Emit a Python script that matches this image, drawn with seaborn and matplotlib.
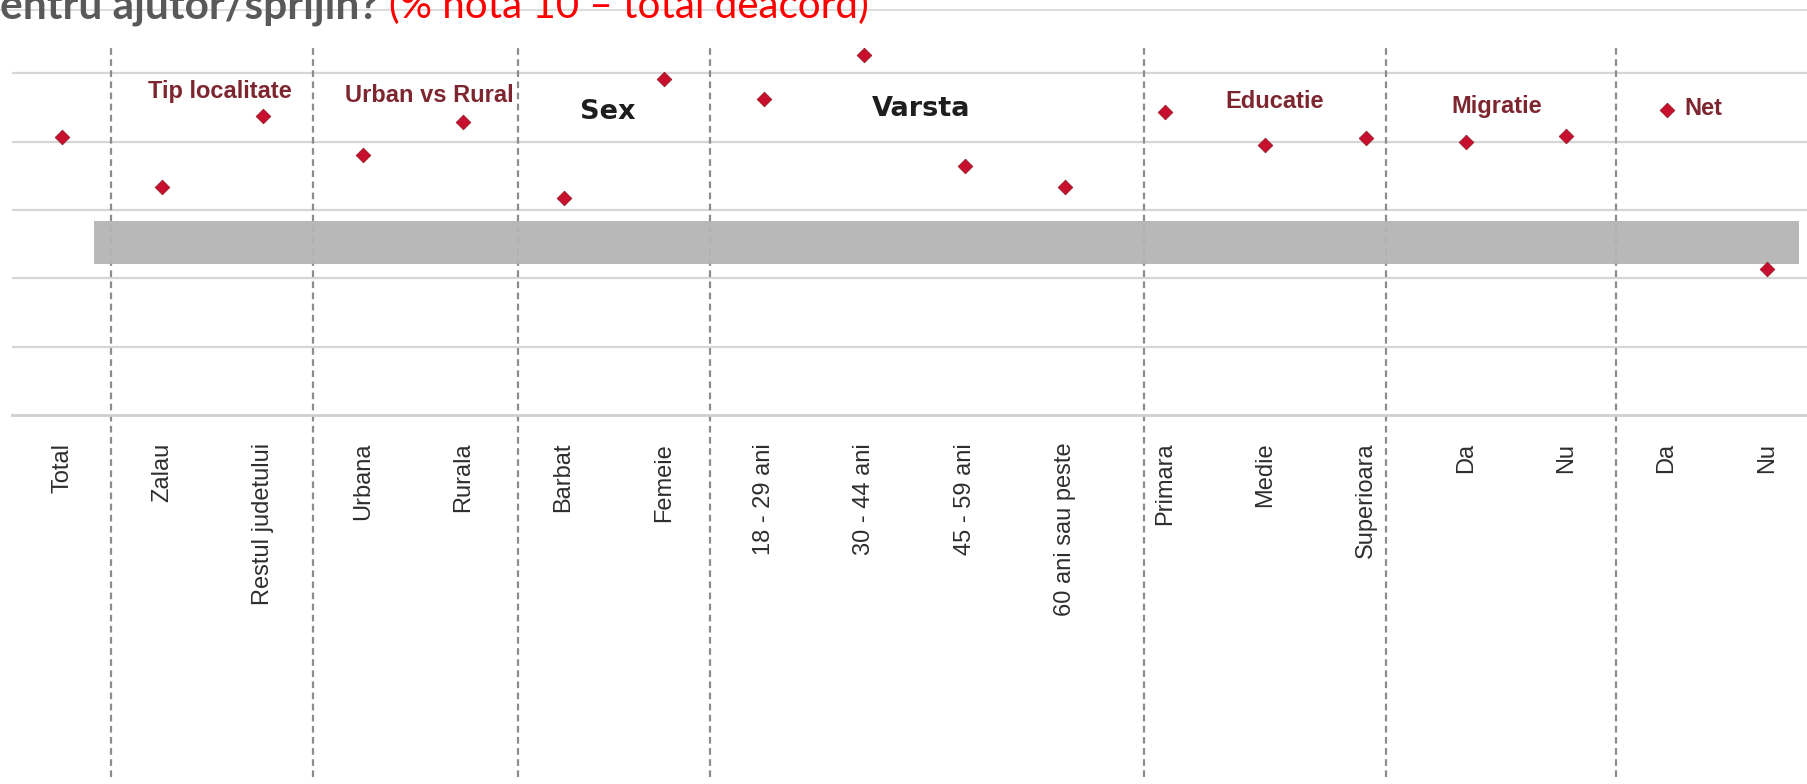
import numpy as np
import pandas as pd
import seaborn as sns
import matplotlib.pyplot as plt
from matplotlib.patches import Rectangle

# categorii si valori (% nota 10)
categorii = ["Total", "Zalau", "Restul judetului", "Urbana", "Rurala", "Barbat", "Femeie",
             "18 - 29 ani", "30 - 44 ani", "45 - 59 ani", "60 ani sau peste",
             "Primara", "Medie", "Superioara", "Da", "Nu", "Da", "Nu"]
valori = [40.7, 33.3, 43.8, 38.0, 42.9, 31.8, 49.2,
          46.3, 52.7, 36.5, 33.4,
          44.4, 39.5, 40.5, 40.0, 40.9, 44.6, 21.3]

grupuri = ["Tip localitate", "Urban vs Rural", "Sex", "Varsta", "Educatie", "Migratie", "Net"]

sns.set_style("white")
plt.rcParams['font.family'] = ['Liberation Sans', 'DejaVu Sans']

df = pd.DataFrame({"poz": np.arange(len(categorii)), "valoare": valori})

W, H = 1808, 784
fig = plt.figure(figsize=(W / 100, H / 100), dpi=100)
ax = fig.add_axes([12 / W, 1 - 415 / H, 1805 / W, 410 / H])

# grid orizontal
for g in [10, 20, 30, 40, 50]:
    ax.axhline(g, color="#d6d6d6", lw=1.6, zorder=0)

# linii separatoare intre grupuri
separatoare = [0.49, 2.5, 4.55, 6.46, 10.79, 13.2, 15.5]
for s in separatoare:
    ax.plot([s, s], [-53, 54], color="#8c8c8c", lw=1.6, ls=(0, (3, 2)),
            clip_on=False, zorder=1)

# banda gri
ax.add_patch(Rectangle((0.32, 22.1), 17.0, 6.3, facecolor="#b4b4b4",
                       edgecolor="none", alpha=0.95, zorder=2))

sns.scatterplot(data=df, x="poz", y="valoare", marker="D", s=55,
                color="#c8102e", edgecolor="#9a1a2a", linewidth=0.6,
                ax=ax, zorder=3, legend=False)

# etichete grupuri
stil = {"Tip localitate": (1.57, 47.3, "center"), "Urban vs Rural": (3.66, 46.8, "center"),
        "Sex": (5.44, 44.4, "center"), "Varsta": (8.57, 44.8, "center"),
        "Educatie": (12.09, 45.9, "center"), "Migratie": (14.31, 45.1, "center"),
        "Net": (16.18, 44.8, "left")}
for gname in grupuri:
    gx, gy, ha = stil[gname]
    if gname in ("Sex", "Varsta"):
        ax.text(gx, gy, gname, ha=ha, va="center", fontsize=19.5, fontweight="bold",
                color="#1e1e1e", family="DejaVu Sans", zorder=4)
    else:
        ax.text(gx, gy, gname, ha=ha, va="center", fontsize=17, fontweight="bold",
                color="#7e2630", zorder=4)

ax.set_xlim(-0.5, 17.5)
ax.set_ylim(0, 60)
ax.set_xticks(np.arange(len(categorii)))
ax.set_xticklabels(categorii, rotation=90, fontsize=17, color="#2e2e2e")
ax.set_xticks(np.arange(-0.5, 18, 1), minor=True)
ax.tick_params(axis="x", which="major", length=0, pad=20)
ax.tick_params(axis="x", which="minor", length=7, width=1.2, color="#b0b0b0", direction="out")
ax.set_yticks([])
ax.set_xlabel("")
ax.set_ylabel("")
for sp in ["top", "left", "right"]:
    ax.spines[sp].set_visible(False)
ax.spines["bottom"].set_color("#cfcfcf")
ax.spines["bottom"].set_linewidth(2)

# titlu (taiat sus)
fig.add_artist(plt.Line2D([0, 1], [1 - 10 / H, 1 - 10 / H], color="#dddddd", lw=1.5))
t1 = fig.text(0.0, 1 - 18 / H, "entru ajutor/sprijin? ", fontsize=30.5, fontweight="bold",
              color="#595959", family=["Lato", "DejaVu Sans"], va="baseline")
fig.canvas.draw()
bb = t1.get_window_extent()
fig.text(bb.x1 / W, 1 - 18 / H, "(% nota 10 \u2013 total deacord)", fontsize=29,
         color="#ff0000", family=["Lato", "DejaVu Sans"], va="baseline")

fig.savefig("out.png", dpi=100)
